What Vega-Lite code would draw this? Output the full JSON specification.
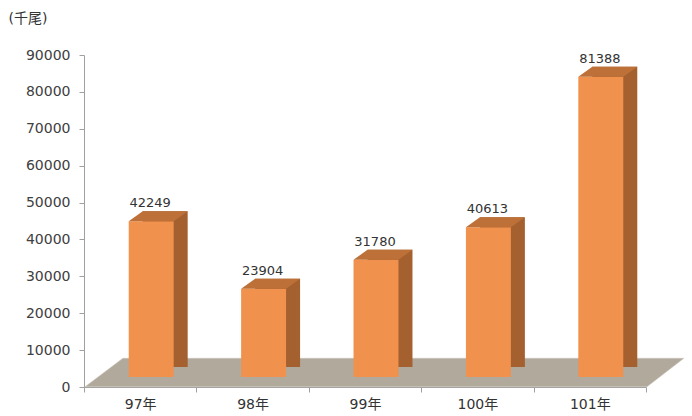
{
  "$schema": "https://vega.github.io/schema/vega-lite/v6.json",
  "width": 562,
  "height": 332,
  "autosize": {"type": "none"},
  "padding": {"left": 84, "top": 55, "right": 46, "bottom": 29},
  "background": "white",
  "config": {
    "view": {"stroke": null},
    "font": "DejaVu Sans, Noto Sans CJK TC, sans-serif"
  },
  "datasets": {
    "floor": [{"part": "floor", "year": "99年", "value": 0}]
  },
  "data": {"values": [
    {"year": "97年", "value": 42249},
    {"year": "98年", "value": 23904},
    {"year": "99年", "value": 31780},
    {"year": "100年", "value": 40613},
    {"year": "101年", "value": 81388}
  ]},
  "encoding": {
    "x": {
      "field": "year", "type": "nominal", "sort": null,
      "scale": {"domain": ["97年", "98年", "99年", "100年", "101年"], "paddingInner": 0, "paddingOuter": 0},
      "axis": {
        "title": null, "labelAngle": 0, "labelFontSize": 14, "labelColor": "#333333",
        "labelFont": "DejaVu Sans, Noto Sans CJK TC, sans-serif",
        "domainColor": "#a0a0a0", "tickColor": "#a0a0a0", "tickSize": 5, "tickBand": "extent",
        "labelPadding": 5, "grid": false
      }
    },
    "y": {
      "field": "value", "type": "quantitative",
      "scale": {"domain": [0, 90000], "nice": false, "zero": true},
      "axis": {
        "title": "(千尾)", "titleAngle": 0, "titleX": -76, "titleY": -37, "titleAlign": "left",
        "titleBaseline": "middle", "titleFontSize": 14, "titleFontWeight": "normal", "titleColor": "#333333",
        "titleFont": "DejaVu Sans, Noto Sans CJK TC, sans-serif",
        "values": [0, 10000, 20000, 30000, 40000, 50000, 60000, 70000, 80000, 90000],
        "format": "d", "labelFontSize": 14, "labelColor": "#404040", "labelPadding": 9,
        "domainColor": "#a0a0a0", "tickColor": "#a0a0a0", "tickSize": 5, "grid": false
      }
    }
  },
  "layer": [
    {
      "data": {"name": "floor"},
      "mark": {
        "type": "point", "filled": true, "fill": "#b1a99c", "stroke": "#c8c2b8", "strokeWidth": 0.5, "opacity": 1,
        "size": 360000, "xOffset": 19.5, "yOffset": -14.5,
        "shape": "M -0.998 0.0475 L 0.875 0.0475 L 0.998 -0.0475 L -0.872 -0.0475 Z"
      }
    },
    {
      "mark": {"type": "bar", "width": {"band": 0.4}, "xOffset": 25, "yOffset": -20, "y2Offset": -20, "color": "#a4602e"},
      "encoding": {"y2": {"datum": 0}}
    },
    {
      "mark": {"type": "bar", "width": {"band": 0.4}, "xOffset": 11, "yOffset": -10, "y2Offset": -10, "color": "#f0914d"},
      "encoding": {"y2": {"datum": 0}}
    },
    {
      "mark": {
        "type": "point", "filled": true, "fill": "#bd7139", "opacity": 1, "strokeWidth": 0,
        "size": 3600, "xOffset": 11, "yOffset": -10,
        "shape": "M -0.75 0 L 0.75 0 L 1.2167 -0.3333 L -0.2833 -0.3333 Z"
      }
    },
    {
      "mark": {"type": "text", "xOffset": 10, "yOffset": -21, "baseline": "bottom", "fontSize": 13, "color": "#333333"},
      "encoding": {"text": {"field": "value", "type": "quantitative", "format": "d"}}
    }
  ]
}
